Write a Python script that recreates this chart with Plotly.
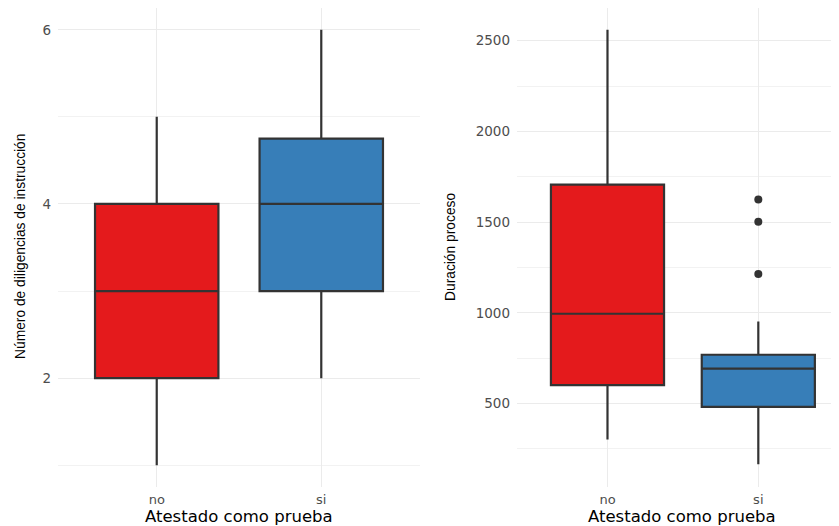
import plotly.graph_objects as go

# ---------------- data ----------------
categories = ["no", "si"]
box_colors = ["#E41A1C", "#377EB8"]

# Left panel: Número de diligencias de instrucción
dil_low = [1, 2]
dil_q1 = [2, 3]
dil_median = [3, 4]
dil_q3 = [4, 4.75]
dil_high = [5, 6]
dil_ticks = [2, 4, 6]
dil_minor = [1, 3, 5]

# Right panel: Duración proceso
dur_low = [302, 165]
dur_q1 = [601, 482]
dur_median = [995, 692]
dur_q3 = [1707, 769]
dur_high = [2560, 952]
dur_out_x = ["si", "si", "si"]
dur_out_y = [1214, 1502, 1625]
dur_ticks = [500, 1000, 1500, 2000, 2500]
dur_minor = [250, 750, 1250, 1750, 2250]

x_title = "Atestado como prueba"
y_title_left = "Número de diligencias de instrucción"
y_title_right = "Duración proceso"

# ---------------- figure ----------------
# the page body has an 8px margin, so the figure is drawn 8px smaller and
# all reference pixel positions are offset by 8
OFF = 8
W, H = 839 - OFF, 526 - OFF
M_T, M_B = 0, 39
fig = go.Figure()

LINE = "#333333"
GRID = "#EBEBEB"
MINOR = "#F2F2F2"
TICKC = "#4D4D4D"

for i, cat in enumerate(categories):
    fig.add_trace(go.Box(
        x=[cat], q1=[dil_q1[i]], median=[dil_median[i]], q3=[dil_q3[i]],
        lowerfence=[dil_low[i]], upperfence=[dil_high[i]],
        fillcolor=box_colors[i], line=dict(color=LINE, width=2.2),
        width=0.75, whiskerwidth=0, boxpoints=False, showlegend=False,
        xaxis="x", yaxis="y"))
    fig.add_trace(go.Box(
        x=[cat], q1=[dur_q1[i]], median=[dur_median[i]], q3=[dur_q3[i]],
        lowerfence=[dur_low[i]], upperfence=[dur_high[i]],
        fillcolor=box_colors[i], line=dict(color=LINE, width=2.2),
        width=0.75, whiskerwidth=0, boxpoints=False, showlegend=False,
        xaxis="x2", yaxis="y2"))

fig.add_trace(go.Scatter(
    x=dur_out_x, y=dur_out_y, mode="markers",
    marker=dict(color=LINE, size=8), showlegend=False,
    xaxis="x2", yaxis="y2"))

tick_font = dict(family="DejaVu Sans", size=13.5, color=TICKC)
xtick_font = dict(family="DejaVu Sans", size=13, color=TICKC)

common_x = dict(type="category", categoryorder="array", categoryarray=categories,
                showgrid=True, gridcolor=GRID, gridwidth=1.2,
                zeroline=False, showline=False, ticks="", tickfont=xtick_font,
                ticklabelstandoff=3, fixedrange=True)
common_y = dict(showgrid=True, gridcolor=GRID, gridwidth=1.2, zeroline=False,
                showline=False, ticks="", tickfont=tick_font, ticklabelstandoff=6)

fig.update_layout(
    width=W, height=H,
    margin=dict(l=0, r=0, t=M_T, b=M_B),
    paper_bgcolor="white", plot_bgcolor="white",
    boxmode="overlay",
    xaxis=dict(domain=[(58 - OFF) / W, (420 - OFF) / W], anchor="y",
               range=[-0.6, 1.6], **common_x),
    # the right panel is cut by the image edge in the reference
    xaxis2=dict(domain=[(517 - OFF) / W, 1.0], anchor="y2",
                range=[-0.6, 1.535], **common_x),
    yaxis=dict(domain=[0, 1], anchor="x", range=[0.75, 6.25], tickvals=dil_ticks,
               minor=dict(tickvals=dil_minor, showgrid=True, gridcolor=MINOR, gridwidth=1),
               **common_y),
    yaxis2=dict(domain=[0, 1], anchor="x2", range=[40, 2680], tickvals=dur_ticks,
                minor=dict(tickvals=dur_minor, showgrid=True, gridcolor=MINOR, gridwidth=1),
                **common_y),
)

ph = H - M_T - M_B
def px(xref):
    return (xref - OFF) / W
def py(yref):
    return (H - M_B - (yref - OFF)) / ph

ann_font_x = dict(family="DejaVu Sans", size=16.5, color="black")
ann_font_y = dict(family="Liberation Sans", size=13.8, color="black")
fig.add_annotation(text=x_title, xref="paper", yref="paper", x=px(239), y=py(516),
                   xanchor="center", yanchor="middle", showarrow=False, font=ann_font_x)
fig.add_annotation(text=x_title, xref="paper", yref="paper", x=px(682), y=py(516),
                   xanchor="center", yanchor="middle", showarrow=False, font=ann_font_x)
fig.add_annotation(text=y_title_left, xref="paper", yref="paper", x=px(20), y=py(247),
                   xanchor="center", yanchor="middle", textangle=-90, showarrow=False,
                   font=ann_font_y)
fig.add_annotation(text=y_title_right, xref="paper", yref="paper", x=px(450), y=py(247),
                   xanchor="center", yanchor="middle", textangle=-90, showarrow=False,
                   font=ann_font_y)

fig.write_html("out.html")
